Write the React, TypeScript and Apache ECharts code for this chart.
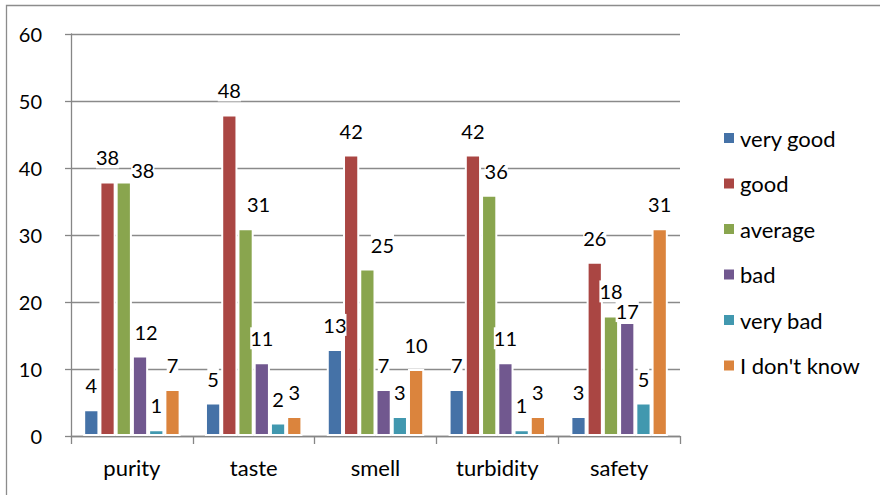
import React, { useEffect, useRef } from "react";
import * as echarts from "echarts";

const categories = ["purity", "taste", "smell", "turbidity", "safety"];

const seriesNames = ["very good", "good", "average", "bad", "very bad", "I don't know"];
const veryGood = [4, 5, 13, 7, 3];
const good = [38, 48, 42, 42, 26];
const average = [38, 31, 25, 36, 18];
const bad = [12, 11, 7, 11, 17];
const veryBad = [1, 2, 3, 1, 5];
const dontKnow = [7, 3, 10, 3, 31];

const yMin = 0;
const yMax = 60;
const yStep = 10;

const palette = ["#4572A7", "#AA4643", "#89A54E", "#71588F", "#4198AF", "#DB843D"];

// hand-placed value labels that sit beside their bar instead of on top
const labelNudges: Record<string, [number, number]> = {
  "average|purity": [19, 13],
  "bad|purity": [6, 0],
  "average|taste": [13, 0],
  "average|smell": [15, 0],
  "average|turbidity": [7, 0],
  "bad|safety": [0, 13],
};

const FONT = "Lato, 'Noto Sans', sans-serif";

export default function App() {
  const ref = useRef<HTMLDivElement>(null);

  useEffect(() => {
    document.body.style.margin = "0";
    if (!ref.current) return;
    const chart = echarts.init(ref.current, undefined, { renderer: "svg" });

    const values = [veryGood, good, average, bad, veryBad, dontKnow];

    const series = seriesNames.map((name, si) => ({
      name,
      type: "bar" as const,
      barGap: "0%",
      barCategoryGap: "20%",
      itemStyle: { color: palette[si], borderColor: "#ffffff", borderWidth: 2 },
      label: {
        show: true,
        position: "top" as const,
        distance: 13,
        color: "#000",
        fontFamily: FONT,
        fontSize: 20,
        lineHeight: 22,
        backgroundColor: "#ffffff",
        padding: 0,
      },
      data: values[si].map((v, ci) => {
        const nudge = labelNudges[`${name}|${categories[ci]}`];
        return nudge ? { value: v, label: { offset: nudge } } : { value: v };
      }),
    }));

    chart.setOption({
      animation: false,
      backgroundColor: "#ffffff",
      grid: { left: 71, right: 200, top: 34, bottom: 59, containLabel: false },
      legend: {
        orient: "vertical",
        left: 722,
        top: 127,
        padding: 0,
        itemWidth: 12,
        itemHeight: 12,
        itemGap: 23.5,
        icon: "rect",
        textStyle: { fontFamily: FONT, fontSize: 22, color: "#000", lineHeight: 22 },
        data: seriesNames,
      },
      xAxis: {
        type: "category",
        data: categories,
        axisLine: { lineStyle: { color: "#868686", width: 1.3 } },
        axisTick: { show: true, length: 8, lineStyle: { color: "#868686", width: 1.3 } },
        axisLabel: { fontFamily: FONT, fontSize: 22, color: "#000", margin: 20 },
      },
      yAxis: {
        type: "value",
        min: yMin,
        max: yMax,
        interval: yStep,
        axisLine: { show: true, lineStyle: { color: "#868686", width: 1.3 } },
        axisTick: { show: true, length: 6, lineStyle: { color: "#868686", width: 1.3 } },
        splitLine: { show: true, lineStyle: { color: "#8a8a8a", width: 1.3 } },
        axisLabel: { fontFamily: FONT, fontSize: 20, color: "#000", margin: 29 },
      },
      graphic: [
        {
          type: "rect",
          silent: true,
          shape: { x: 6.5, y: 5.5, width: 1000, height: 1000 },
          style: { fill: "none", stroke: "#8c8c8c", lineWidth: 1.3 },
        },
      ],
      series,
    });

    return () => chart.dispose();
  }, []);

  return <div ref={ref} style={{ width: 880, height: 495 }} />;
}
